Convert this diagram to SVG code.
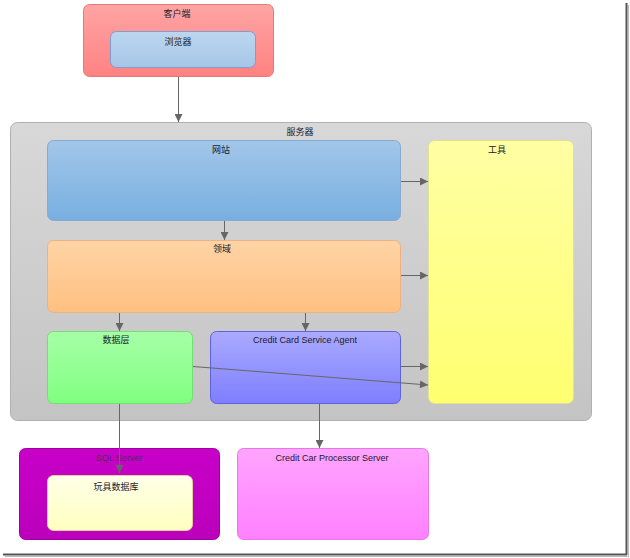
<svg xmlns="http://www.w3.org/2000/svg" width="630" height="558" viewBox="0 0 630 558">
<defs>
<linearGradient id="gRed" x1="0" y1="0" x2="0" y2="1"><stop offset="0" stop-color="#ffa4a4"/><stop offset="1" stop-color="#ff8282"/></linearGradient>
<linearGradient id="gBrowser" x1="0" y1="0" x2="0" y2="1"><stop offset="0" stop-color="#bcd6ef"/><stop offset="1" stop-color="#a6c6e8"/></linearGradient>
<linearGradient id="gServer" x1="0" y1="0" x2="0" y2="1"><stop offset="0" stop-color="#d8d8d8"/><stop offset="1" stop-color="#c4c4c4"/></linearGradient>
<linearGradient id="gWeb" x1="0" y1="0" x2="0" y2="1"><stop offset="0" stop-color="#a2c6e9"/><stop offset="1" stop-color="#78afe0"/></linearGradient>
<linearGradient id="gTool" x1="0" y1="0" x2="0" y2="1"><stop offset="0" stop-color="#ffffa4"/><stop offset="1" stop-color="#ffff70"/></linearGradient>
<linearGradient id="gDomain" x1="0" y1="0" x2="0" y2="1"><stop offset="0" stop-color="#ffd4a6"/><stop offset="1" stop-color="#ffc080"/></linearGradient>
<linearGradient id="gData" x1="0" y1="0" x2="0" y2="1"><stop offset="0" stop-color="#a6ffa6"/><stop offset="1" stop-color="#80ff80"/></linearGradient>
<linearGradient id="gAgent" x1="0" y1="0" x2="0" y2="1"><stop offset="0" stop-color="#aaaaff"/><stop offset="1" stop-color="#7e7eff"/></linearGradient>
<linearGradient id="gSql" x1="0" y1="0" x2="0" y2="1"><stop offset="0" stop-color="#c800c8"/><stop offset="1" stop-color="#bb00bb"/></linearGradient>
<linearGradient id="gDb" x1="0" y1="0" x2="0" y2="1"><stop offset="0" stop-color="#ffffe8"/><stop offset="1" stop-color="#ffffc0"/></linearGradient>
<linearGradient id="gProc" x1="0" y1="0" x2="0" y2="1"><stop offset="0" stop-color="#ffa4ff"/><stop offset="1" stop-color="#ff80ff"/></linearGradient>
<marker id="arr" viewBox="0 0 10 10" refX="10" refY="5" markerWidth="9" markerHeight="8" markerUnits="userSpaceOnUse" orient="auto">
<path d="M0,0 L10,5 L0,10 z" fill="#666"/>
</marker>
<style>
.t{font-family:"Liberation Sans","Noto Sans CJK SC",sans-serif;font-size:9px;fill:#1a1a2a;text-anchor:middle}
.c{stroke:#666;stroke-width:1;fill:none;marker-end:url(#arr)}
</style>
</defs>
<rect width="630" height="558" fill="#fff"/>
<g id="frame">
<line x1="626.5" y1="3" x2="626.5" y2="555" stroke="#555" stroke-width="2"/>
<line x1="3" y1="554.5" x2="627" y2="554.5" stroke="#555" stroke-width="2"/>
<line x1="628.5" y1="5" x2="628.5" y2="557" stroke="#bbb" stroke-width="1"/>
<line x1="5" y1="556.5" x2="629" y2="556.5" stroke="#bbb" stroke-width="1"/>
</g>
<g id="client">
<rect x="83.5" y="4.5" width="190" height="72" rx="6" fill="url(#gRed)" stroke="#e67878"/>
<text class="t" x="177" y="17">客户端</text>
</g>
<g id="browser">
<rect x="110.5" y="31.5" width="145" height="36" rx="6" fill="url(#gBrowser)" stroke="#7f9ccc"/>
<text class="t" x="178" y="45">浏览器</text>
</g>
<g id="server">
<rect x="10.5" y="122.5" width="581" height="298" rx="7" fill="url(#gServer)" stroke="#b0b0b0"/>
<text class="t" x="300" y="135">服务器</text>
</g>
<g id="website">
<rect x="47.5" y="140.5" width="353" height="80" rx="6" fill="url(#gWeb)" stroke="#88aad0"/>
<text class="t" x="221" y="153">网站</text>
</g>
<g id="tools">
<rect x="428.5" y="140.5" width="145" height="263" rx="6" fill="url(#gTool)" stroke="#e0e090"/>
<text class="t" x="497" y="153">工具</text>
</g>
<g id="domain">
<rect x="47.5" y="240.5" width="353" height="72" rx="6" fill="url(#gDomain)" stroke="#f0b080"/>
<text class="t" x="222" y="252">领域</text>
</g>
<g id="datalayer">
<rect x="47.5" y="331.5" width="145" height="72" rx="6" fill="url(#gData)" stroke="#70e070"/>
<text class="t" x="116" y="343">数据层</text>
</g>
<g id="agent">
<rect x="210.5" y="331.5" width="190" height="72" rx="6" fill="url(#gAgent)" stroke="#6060e0"/>
<text class="t" x="305" y="343">Credit Card Service Agent</text>
</g>
<g id="sqlserver">
<rect x="19.5" y="448.5" width="200" height="91" rx="6" fill="url(#gSql)" stroke="#a000a0"/>
<text class="t" x="119" y="461" style="fill:#50305a">SQL Server</text>
</g>
<g id="toydb">
<rect x="47.5" y="475.5" width="145" height="55" rx="6" fill="url(#gDb)" stroke="#e0d0a0"/>
<text class="t" x="116" y="490">玩具数据库</text>
</g>
<g id="processor">
<rect x="237.5" y="448.5" width="191" height="91" rx="6" fill="url(#gProc)" stroke="#e878e8"/>
<text class="t" x="332" y="461">Credit Car Processor Server</text>
</g>
<g id="connectors">
<line class="c" x1="178.5" y1="77" x2="178.5" y2="122"/>
<line class="c" x1="401" y1="181.5" x2="428" y2="181.5"/>
<line class="c" x1="224.5" y1="221" x2="224.5" y2="240"/>
<line class="c" x1="401" y1="275.5" x2="428" y2="275.5"/>
<line class="c" x1="119.5" y1="313" x2="119.5" y2="331"/>
<line class="c" x1="305.5" y1="313" x2="305.5" y2="331"/>
<line class="c" x1="401" y1="366.5" x2="428" y2="366.5"/>
<line class="c" x1="193" y1="366.5" x2="428" y2="385"/>
<line class="c" x1="119.5" y1="404" x2="119.5" y2="473"/>
<line class="c" x1="319.5" y1="404" x2="319.5" y2="448"/>
</g>
</svg>
